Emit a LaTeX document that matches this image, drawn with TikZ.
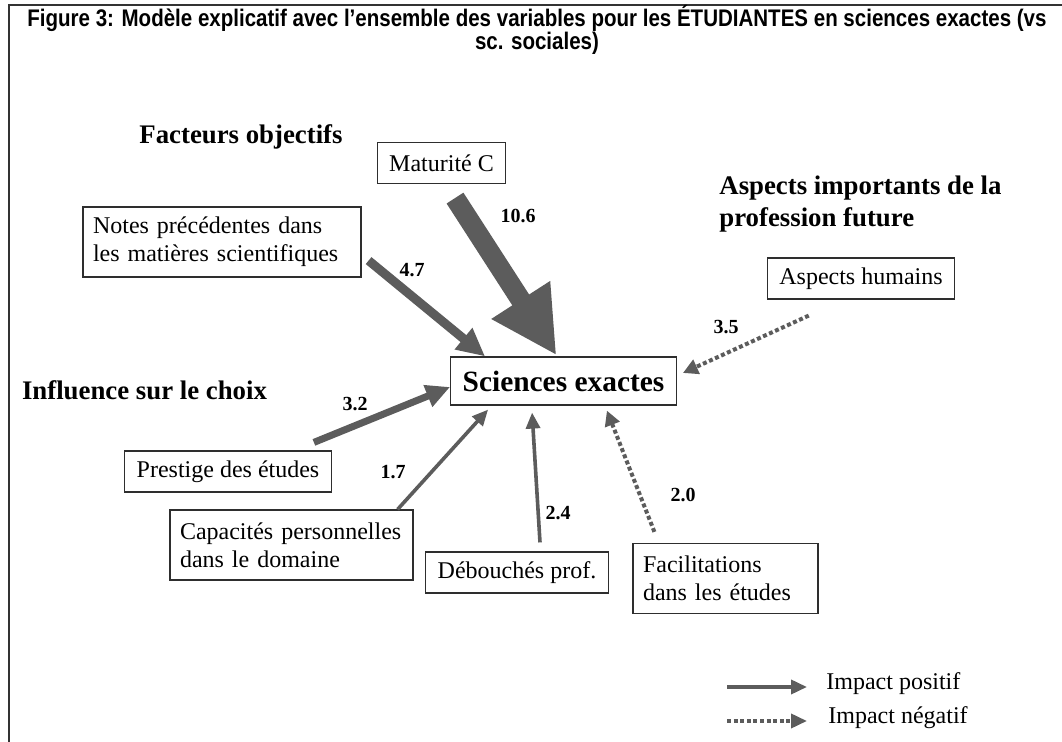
\documentclass[tikz,border=0pt]{standalone}
\usepackage{fontspec}
\setmainfont{Liberation Serif}
\newfontfamily\titlefont{Liberation Sans}
\usepackage{graphicx}
\usetikzlibrary{arrows.meta, calc}
\definecolor{ARRgray}{HTML}{5C5C5C}
\definecolor{BOXline}{HTML}{2E2E2E}

\tikzset{
  varbox/.style={draw=BOXline, line width=0.6pt, font=\fontsize{12}{14}\selectfont,
    inner xsep=6pt, inner ysep=0pt, minimum height=20.5pt},
  twoline/.style={varbox, align=left, text width=#1, inner xsep=5pt, minimum height=35pt},
  groupname/.style={font=\fontsize{13.4}{16}\selectfont\bfseries, inner sep=0pt},
  coef/.style={font=\fontsize{10}{12}\selectfont\bfseries, inner sep=0pt},
  posarrow/.style={draw=ARRgray, fill=ARRgray, line width=#1},
  negarrow/.style={draw=ARRgray, line width=2pt, dash pattern=on 2pt off 1.3pt,
    -{Triangle[width=7.5pt,length=7.5pt]}},
  titletext/.style={font=\titlefont\bfseries\fontsize{12}{14}\selectfont, inner sep=0pt}
}

\begin{document}
\begin{tikzpicture}[x=0.5pt, y=-0.5pt]
   \useasboundingbox (0,0) rectangle (1062,742);
   % Frame
   \draw[line width=1pt, black!80] (9,742) -- (9,5) -- (1062,5);
   % Title
   \node[titletext] (title) at (537,18)
      {\scalebox{0.855}[1]{Figure 3: Modèle explicatif avec l’ensemble des variables pour les ÉTUDIANTES en sciences exactes (vs}};
   \node[titletext] (title2) at (537,43) {\scalebox{0.855}[1]{sc. sociales)}};
   % Groups of variables
   \node[groupname] (objhead) at (241,137) {Facteurs objectifs};
   \node[groupname] (inflhead) at (144.5,390) {Influence sur le choix};
   \node[groupname, anchor=west, align=left] (profhead) at (719,204)
      {Aspects importants de la\\profession future};
   % Variables
   \node[varbox] (mat) at (441.5,163) {Maturité C};
   \node[twoline=129pt] (notes) at (222,242) {\mbox{Notes précédentes dans}\\\mbox{les matières scientifiques}};
   \node[varbox] (hum) at (861,278.5) {Aspects humains};
   \node[varbox, font=\fontsize{14.7}{17}\selectfont\bfseries, minimum height=24pt]
      (sci) at (563.5,381) {Sciences exactes};
   \node[varbox] (prest) at (228,471.5) {Prestige des études};
   \node[twoline=111.5pt] (cap) at (291.5,545) {\mbox{Capacités personnelles}\\\mbox{dans le domaine}};
   \node[varbox] (deb) at (517,572.5) {Débouchés prof.};
   \node[twoline=82.5pt] (fac) at (725.5,578.5) {\mbox{Facilitations}\\\mbox{dans les études}};
   % Positive impacts
   \draw[posarrow=10pt, -{Triangle[width=32.5pt,length=33pt]}]
      ($(mat.south)+(13.5,14)$) -- ($(sci.north)+(-7,-1)$);
   \draw[posarrow=4.5pt, -{Triangle[width=13pt,length=14pt]}]
      ($(notes.south east)+(7,-17)$) -- ($(sci.north west)+(35,0)$);
   \draw[posarrow=3.5pt, -{Triangle[width=11pt,length=12pt]}]
      ($(prest.north east)+(-18,-8)$) -- ($(sci.west)+(0,6)$);
   \draw[posarrow=1.8pt, -{Triangle[width=7pt,length=8pt]}]
      ($(cap.north east)+(-16,0)$) -- ($(sci.south west)+(38,4)$);
   \draw[posarrow=1.8pt, -{Triangle[width=7pt,length=8pt]}]
      ($(deb.north)+(23,-9)$) -- ($(sci.south west)+(82,7)$);
   % Negative impacts
   \draw[negarrow] ($(fac.north west)+(22,-11)$) -- ($(sci.south east)+(-70,5)$);
   \draw[negarrow] ($(hum.south west)+(42,16)$) -- ($(sci.east)+(6,-8)$);
   % Coefficients
   \node[coef] (c106) at (518,216) {10.6};
   \node[coef] (c47) at (412,270) {4.7};
   \node[coef] (c35) at (726,327) {3.5};
   \node[coef] (c32) at (355,404) {3.2};
   \node[coef] (c17) at (393,472) {1.7};
   \node[coef] (c24) at (558,513) {2.4};
   \node[coef] (c20) at (683,495) {2.0};
   % Legend
   \coordinate (posA) at (727,687);
   \coordinate (posB) at (807,687);
   \coordinate (negA) at (727,721);
   \coordinate (negB) at (807,721);
   \draw[posarrow=1.8pt, -{Triangle[width=7pt,length=8pt]}] (posA) -- (posB);
   \draw[negarrow, line width=1.8pt, -{Triangle[width=7pt,length=8pt]}] (negA) -- (negB);
   \node[anchor=west, inner sep=0pt, font=\fontsize{12}{14}\selectfont] (poslab) at (826,684) {Impact positif};
   \node[anchor=west, inner sep=0pt, font=\fontsize{12}{14}\selectfont] (neglab) at (828,718) {Impact négatif};
\end{tikzpicture}
\end{document}
